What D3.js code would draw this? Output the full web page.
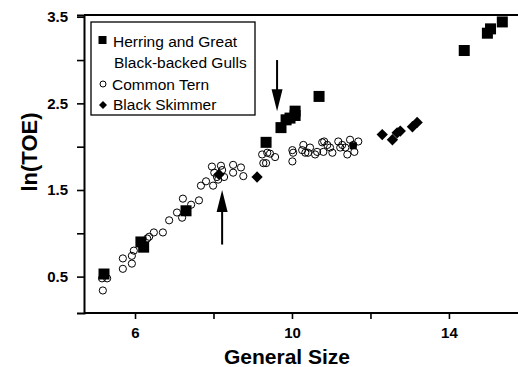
<!DOCTYPE html>
<html><head><meta charset="utf-8">
<script src="https://cdn.jsdelivr.net/npm/d3@7"></script>
<style>body{margin:0;background:#fff}svg{display:block}</style>
</head><body>
<svg id="c" width="518" height="367"></svg>
<script>
const gullsX = [5.21,6.15,6.22,7.30,9.34,9.72,9.85,9.95,10.08,10.08,10.69,11.56,14.39,14.98,15.06,15.36];
const gullsY = [0.53,0.90,0.84,1.26,2.05,2.22,2.31,2.33,2.36,2.41,2.58,2.01,3.11,3.31,3.36,3.44];
const ternX = [5.16,5.29,5.18,5.69,5.69,5.92,5.92,5.97,6.31,6.36,6.48,6.71,6.87,7.20,7.07,7.22,7.43,7.63,7.68,7.81,7.99,7.96,8.19,8.50,8.50,8.70,8.76,8.12,8.27,8.02,8.22,8.09,9.24,9.37,9.44,9.57,9.27,9.34,10.01,10.01,10.03,10.26,10.29,10.34,10.41,10.46,10.59,10.64,10.77,10.82,10.90,10.97,11.03,10.80,11.18,11.28,11.36,11.41,11.48,11.56,11.69,11.59,11.23];
const ternY = [0.48,0.48,0.34,0.71,0.59,0.65,0.74,0.80,0.94,0.96,1.01,1.01,1.15,1.18,1.24,1.40,1.33,1.38,1.55,1.60,1.55,1.77,1.78,1.79,1.70,1.76,1.66,1.62,1.65,1.70,1.73,1.65,1.91,1.93,1.92,1.88,1.81,1.81,1.96,1.83,1.93,1.96,2.02,1.93,1.93,1.99,1.91,1.94,2.05,2.06,2.02,1.99,1.93,1.94,2.06,2.02,1.99,1.91,2.08,2.02,2.06,1.94,1.99];
const skimX = [8.14,9.11,12.30,12.56,12.68,12.76,13.07,13.19];
const skimY = [1.68,1.65,2.14,2.08,2.16,2.18,2.23,2.28];
const xTicks = [6,8,10,12,14];
const xTickLabels = ["6","","10","","14"];
const yTicks = [0.5,1.0,1.5,2.0,2.5,3.0,3.5];
const yTickLabels = ["0.5","","1.5","","2.5","","3.5"];
const legendLabels = [["Herring and Great","Black-backed Gulls"],["Common Tern"],["Black Skimmer"]];
const arrowDown = {x:9.62, y0:3.0, y1:2.41};
const arrowUp = {x:8.22, y0:0.87, y1:1.50};

const svg = d3.select("#c");
const font = "'Liberation Sans', Arial, sans-serif";
const x = d3.scaleLinear().domain([4.7,15.76]).range([84,518]);
const y = d3.scaleLinear().domain([0.08,3.52]).range([313,15]);

svg.append("line").attr("x1",84).attr("x2",518).attr("y1",15).attr("y2",15).attr("stroke","#000").attr("stroke-width",2.2);
svg.append("line").attr("x1",84).attr("x2",518).attr("y1",313).attr("y2",313).attr("stroke","#000").attr("stroke-width",2);

const yAxis = d3.axisLeft(y).tickValues(yTicks).tickFormat((d,i)=>yTickLabels[i]).tickSize(7).tickPadding(9);
const gy = svg.append("g").attr("transform","translate(84,0)").call(yAxis);
gy.select(".domain").attr("stroke-width",2);
gy.selectAll(".tick line").attr("stroke-width",1.6);
gy.selectAll("text").attr("font-family",font).attr("font-size",15).attr("font-weight","bold").attr("fill","#000");

const xAxis = d3.axisBottom(x).tickValues(xTicks).tickFormat((d,i)=>xTickLabels[i]).tickSize(6).tickPadding(8);
const gx = svg.append("g").attr("transform","translate(0,313)").call(xAxis);
gx.select(".domain").remove();
gx.selectAll(".tick line").attr("stroke-width",1.6);
gx.selectAll("text").attr("font-family",font).attr("font-size",15).attr("font-weight","bold").attr("fill","#000");

svg.append("text").attr("transform","translate(37,152) rotate(-90)").attr("text-anchor","middle")
  .attr("font-family",font).attr("font-size",22).attr("font-weight","bold").text("ln(TOE)");
svg.append("text").attr("x",287).attr("y",364).attr("text-anchor","middle")
  .attr("font-family",font).attr("font-size",21).attr("font-weight","bold").text("General Size");

svg.append("g").selectAll("circle").data(ternX.map((v,i)=>[v,ternY[i]])).join("circle")
  .attr("cx",d=>x(d[0])).attr("cy",d=>y(d[1])).attr("r",3.6)
  .attr("fill","none").attr("stroke","#000").attr("stroke-width",1);
svg.append("g").selectAll("rect").data(gullsX.map((v,i)=>[v,gullsY[i],i])).join("rect")
  .attr("x",d=>x(d[0])-(d[2]===11?3.5:5.5)).attr("y",d=>y(d[1])-(d[2]===11?3.5:5.5))
  .attr("width",d=>d[2]===11?7:11).attr("height",d=>d[2]===11?7:11).attr("fill","#000");
const dia = d3.symbol().type(d3.symbolSquare).size(64);
svg.append("g").selectAll("path").data(skimX.map((v,i)=>[v,skimY[i]])).join("path")
  .attr("d",dia).attr("transform",d=>`translate(${x(d[0])},${y(d[1])}) rotate(45)`).attr("fill","#000");

function arrow(a){
  const xa = x(a.x), ya0 = y(a.y0), ya1 = y(a.y1);
  const dir = ya1 > ya0 ? 1 : -1;
  const headLen = 22;
  svg.append("line").attr("x1",xa).attr("x2",xa).attr("y1",ya0).attr("y2",ya1 - dir*headLen+dir*2)
    .attr("stroke","#000").attr("stroke-width",2);
  svg.append("path").attr("d",`M${xa},${ya1} L${xa-5.5},${ya1-dir*headLen} L${xa+5.5},${ya1-dir*headLen} Z`).attr("fill","#000");
}
arrow(arrowDown); arrow(arrowUp);

const lg = svg.append("g");
lg.append("rect").attr("x",91).attr("y",22).attr("width",164).attr("height",93)
  .attr("fill","#fff").attr("stroke","#000").attr("stroke-width",1.3);
const lines = [[legendLabels[0][0],47,113],[legendLabels[0][1],68,114],[legendLabels[1][0],90,112],[legendLabels[2][0],110,113]];
lines.forEach(([t,yy,xx])=>{
  lg.append("text").attr("x",xx).attr("y",yy).attr("font-family",font).attr("font-size",15.5).text(t);
});
lg.append("rect").attr("x",98.5).attr("y",36).attr("width",8).attr("height",8).attr("fill","#000");
lg.append("circle").attr("cx",103).attr("cy",84).attr("r",3).attr("fill","none").attr("stroke","#000").attr("stroke-width",1);
lg.append("path").attr("d",d3.symbol().type(d3.symbolSquare).size(32)).attr("transform","translate(103,105) rotate(45)").attr("fill","#000");
</script>
</body></html>
